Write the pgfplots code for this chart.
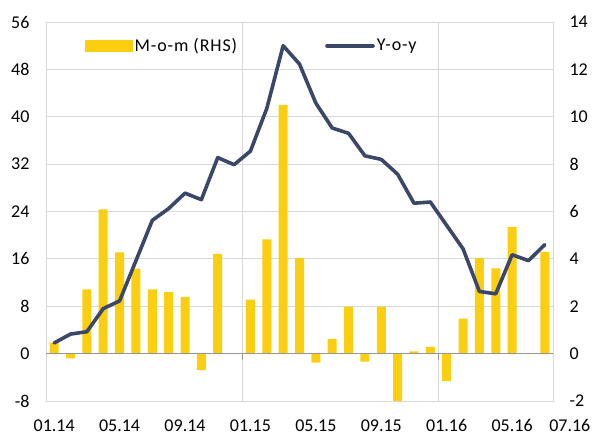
\documentclass[border=0pt]{standalone}
\usepackage{pgfplots}
\pgfplotsset{compat=1.18}
\usepackage{fontspec}
\setmainfont{Carlito}
\newfontfamily\legfont[LetterSpace=5]{Carlito}
\definecolor{baryel}{RGB}{252,206,16}
\definecolor{navy}{RGB}{59,71,104}
\definecolor{gridgray}{RGB}{217,217,217}
\definecolor{zerogray}{RGB}{150,150,150}
\begin{document}
\begin{tikzpicture}
\path[use as bounding box] (-46pt,-35pt) rectangle (549pt,401pt);
% RHS axis with bars
\begin{axis}[
  scale only axis, width=507pt, height=379pt,
  xmin=-0.5, xmax=30.5, ymin=-2, ymax=14,
  ytick={-2,0,...,14},
  yticklabel pos=right,
  ymajorgrids,
  grid style={draw=gridgray, line width=0.9pt},
  axis line style={draw=gridgray, line width=0.9pt},
  major tick length=0pt,
  xtick={0,4,...,28},
  xticklabels={01.14,05.14,09.14,01.15,05.15,09.15,01.16,05.16},
  extra x ticks={11.5,23.5},
  extra x tick labels={},
  extra x tick style={grid=major},
  tick label style={font=\fontsize{18}{20}\selectfont},
  /pgf/number format/assume math mode=true,
  xticklabel style={anchor=base, inner sep=0pt, yshift=-31pt},
  yticklabel style={xshift=13pt},
  clip mode=individual,
]
\addplot[ybar, bar width=9pt, draw=none, fill=baryel] coordinates {
(0,0.46) (1,-0.2) (2,2.71) (3,6.09) (4,4.27) (5,3.59) (6,2.71) (7,2.6) (8,2.4) (9,-0.7)
(10,4.21) (11,0) (12,2.28) (13,4.82) (14,10.5) (15,4.03) (16,-0.38) (17,0.61) (18,1.98) (19,-0.34)
(20,1.98) (21,-2.2) (22,0.1) (23,0.28) (24,-1.16) (25,1.48) (26,4.03) (27,3.6) (28,5.34) (29,0) (30,4.3)
};
\draw[zerogray, line width=1pt] (axis cs:-0.5,0) -- (axis cs:30.5,0);
\draw[zerogray, line width=1pt] (axis cs:11.5,0) -- (axis cs:11.5,-0.25);
\draw[zerogray, line width=1pt] (axis cs:23.5,0) -- (axis cs:23.5,-0.25);
\node[font=\fontsize{18}{20}\selectfont, anchor=base, inner sep=0pt] at ([xshift=25pt,yshift=-31pt]axis cs:30,-2) {07.16};
\end{axis}
% LHS axis with line
\begin{axis}[
  scale only axis, width=507pt, height=379pt,
  xmin=-0.5, xmax=30.5, ymin=-8, ymax=56,
  ytick={-8,0,...,56},
  hide x axis,
  axis y line*=left,
  y axis line style={draw=none},
  major tick length=0pt,
  tick label style={font=\fontsize{18}{20}\selectfont},
  /pgf/number format/assume math mode=true,
  yticklabel style={xshift=-13pt},
  legend columns=2,
  legend style={draw=none, fill=none, at={(0.071,0.937)}, anchor=west,
    font=\fontsize{18}{20}\selectfont\legfont,
    /tikz/every even column/.append style={column sep=86pt}},
]
\addlegendimage{legend image code/.code={\fill[baryel] (0pt,-5.5pt) rectangle (47pt,5.5pt);}}
\addlegendentry{M-o-m (RHS)}
\addplot[navy, line width=3.6pt, line join=round, line cap=round,
  legend image code/.code={\draw[navy, line width=3.6pt, line cap=round] (0pt,0pt) -- (46pt,0pt);}]
 coordinates {
(0,1.8) (1,3.3) (2,3.7) (3,7.6) (4,8.9) (5,15.7) (6,22.5) (7,24.5) (8,27.1) (9,26.0)
(10,33.1) (11,31.9) (12,34.2) (13,41.4) (14,52.0) (15,48.9) (16,42.3) (17,38.1) (18,37.2) (19,33.4)
(20,32.8) (21,30.3) (22,25.4) (23,25.6) (24,21.65) (25,17.7) (26,10.5) (27,10.1) (28,16.7) (29,15.7) (30,18.4)
};
\addlegendentry{Y-o-y}
\end{axis}
\end{tikzpicture}
\end{document}
